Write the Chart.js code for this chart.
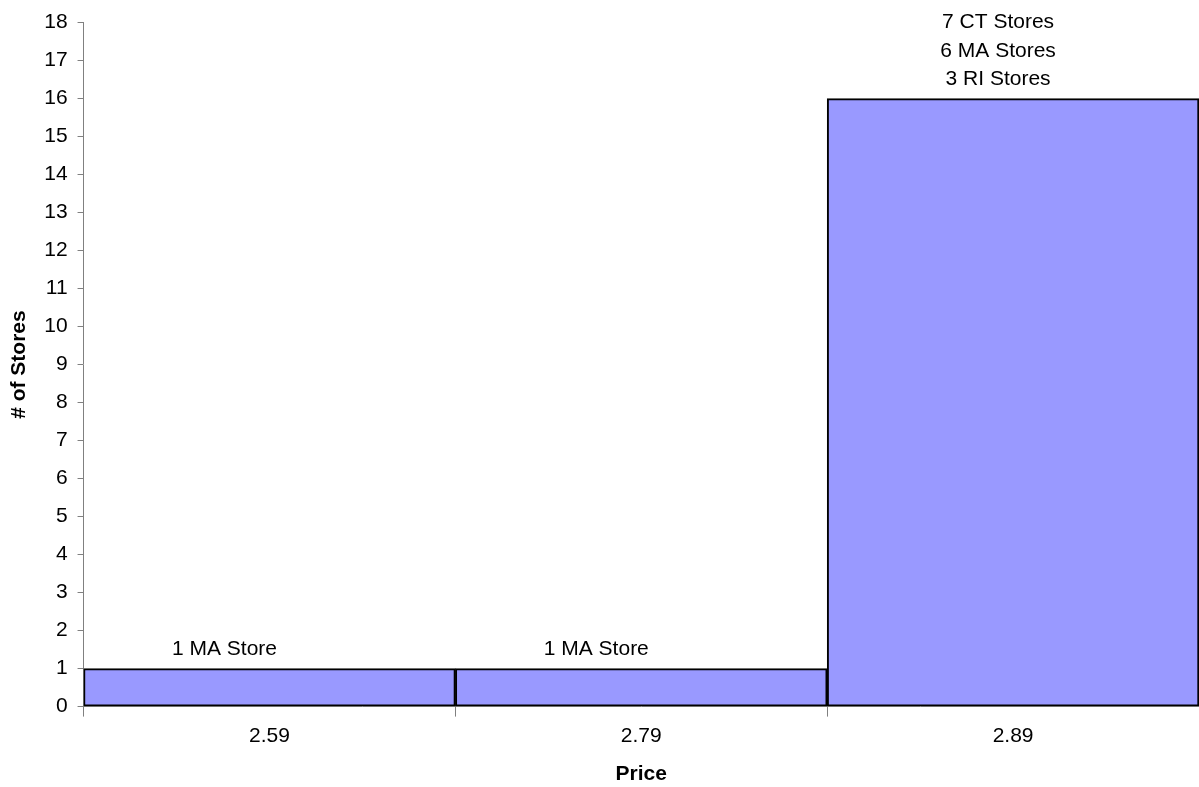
<!DOCTYPE html>
<html>
<head>
<meta charset="utf-8">
<script src="https://cdn.jsdelivr.net/npm/chart.js@4/dist/chart.umd.min.js"></script>
<style>
  body { margin: 0; background: #fff; }
  #wrap { width: 1199px; height: 787px; }
</style>
</head>
<body>
<div id="wrap"><canvas id="chart"></canvas></div>
<script>
// valores
let prices = ['2.59', '2.79', '2.89'];
let storeCounts = [1, 1, 16];
let barNotes = [
	['1 MA Store'],
	['1 MA Store'],
	['7 CT Stores', '6 MA Stores', '3 RI Stores']
];

const FONT = 'Arial, "Liberation Sans", sans-serif';
const FSIZE = 21;

// escreve as anotações acima de cada barra
const notesPlugin = {
	id: 'barNotes',
	afterDatasetsDraw(chart) {
		let ctx = chart.ctx;
		let meta = chart.getDatasetMeta(0);
		ctx.save();
		ctx.font = FSIZE + 'px ' + FONT;
		ctx.fillStyle = '#000';
		ctx.textAlign = 'center';
		ctx.textBaseline = 'middle';
		meta.data.forEach((bar, i) => {
			let lines = barNotes[i];
			let lineH = 28.5;
			let x = bar.x - (lines.length > 1 ? 15 : 45);
			let yBottom = bar.y - 19;
			lines.forEach((txt, k) => {
				ctx.fillText(txt, x, yBottom - (lines.length - 1 - k) * lineH);
			});
		});
		ctx.restore();
	}
};

let myChart = new Chart(document.getElementById('chart'), {
	type: 'bar',
	data: {
		labels: prices,
		datasets: [{
			data: storeCounts,
			backgroundColor: '#9999ff',
			borderColor: '#000',
			borderWidth: 2,
			borderSkipped: false,
			barPercentage: 1,
			categoryPercentage: 1
		}]
	},
	options: {
		responsive: true,
		maintainAspectRatio: false,
		animation: false,
		layout: { padding: { top: 2, right: 0, left: 0, bottom: 0 } },
		plugins: { legend: { display: false }, tooltip: { enabled: false } },
		scales: {
			x: {
				offset: true,
				grid: { offset: true, drawOnChartArea: false, tickLength: 10, color: '#808080' },
				border: { color: '#808080' },
				ticks: { color: '#000', font: { family: FONT, size: FSIZE }, padding: 7 },
				title: { display: true, text: 'Price', color: '#000', font: { family: FONT, size: FSIZE, weight: 'bold' }, padding: { top: 6, bottom: 0 } }
			},
			y: {
				min: 0,
				max: 18,
				ticks: { stepSize: 1, color: '#000', font: { family: FONT, size: FSIZE }, padding: 10 },
				grid: { drawOnChartArea: false, tickLength: 6, color: '#808080' },
				border: { color: '#808080' },
				title: { display: true, text: '# of Stores', color: '#000', font: { family: FONT, size: FSIZE, weight: 'bold' }, padding: { top: 7, bottom: 2 } }
			}
		}
	},
	plugins: [notesPlugin]
});
</script>
</body>
</html>
